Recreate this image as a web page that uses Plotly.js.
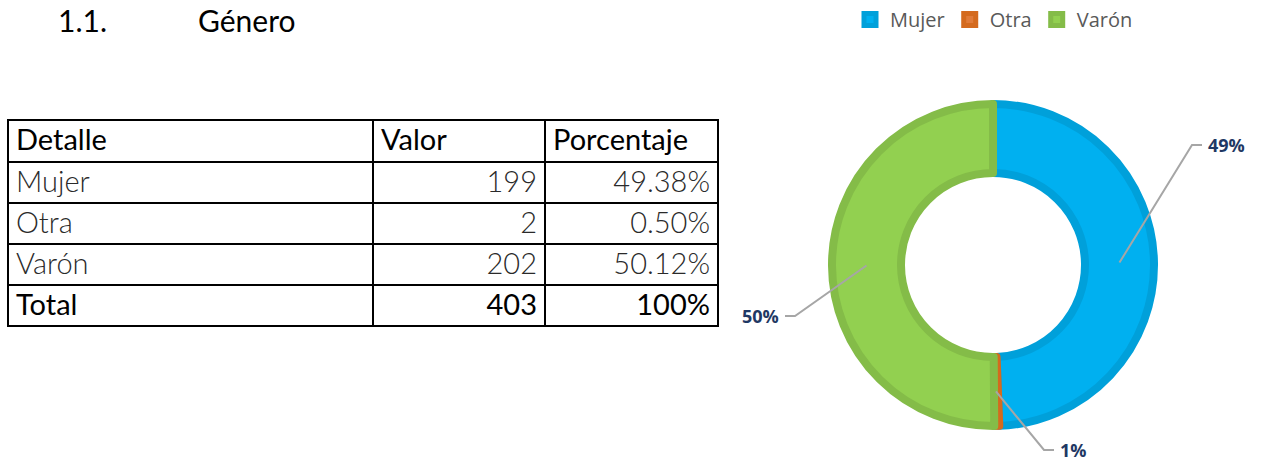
<!DOCTYPE html>
<html><head><meta charset="utf-8">
<script src="https://cdn.plot.ly/plotly-3.0.1.min.js"></script>
<style>html,body{margin:0;padding:0;background:#fff}#chart{width:1261px;height:462px}</style>
</head><body><div id="chart"></div>
<script>
// ---- data ----
const categories = ['Mujer', 'Otra', 'Varón'];
const values = [199, 2, 202];
const pctLabels = ['49%', '1%', '50%'];
const tableHeader = ['Detalle', 'Valor', 'Porcentaje'];
const colDetalle = ['Mujer', 'Otra', 'Varón', 'Total'];
const colValor = ['199', '2', '202', '403'];
const colPorcentaje = ['49.38%', '0.50%', '50.12%', '100%'];

// ---- styling ----
const W = 1261, H = 462;
const fillColors = ['#00B0F0', '#E07B39', '#92D050'];
const edgeColors = ['#00A0DA', '#D46A1E', '#84BC48'];
const cx = 993, cy = 265, rPath = 161, holePath = 92;
const px = x => x / W, py = y => 1 - y / H;
// label elbow positions (pixels) and text side
const labelElbows = [[1192, 145, 'left'], [1044, 450, 'left'], [795, 316, 'right']];

const pie = {
  type: 'pie', labels: categories, values: values, sort: false,
  direction: 'clockwise', rotation: 0, hole: holePath / rPath,
  textinfo: 'none', hoverinfo: 'label+value+percent',
  marker: {colors: fillColors, line: {color: edgeColors, width: 8}},
  domain: {x: [px(cx - rPath), px(cx + rPath)], y: [py(cy + rPath), py(cy - rPath)]},
  showlegend: true
};

const rowColor = ['#2a2a2a', '#2a2a2a', '#2a2a2a', '#000'];
const rowWeight = [300, 300, 300, 400];
const table = {
  type: 'table',
  domain: {x: [px(8), px(718)], y: [py(332), py(120)]},
  columnwidth: [365, 172, 173],
  header: {
    values: tableHeader, align: 'left',
    height: 42, line: {color: '#000', width: 2}, fill: {color: '#fff'},
    font: {family: 'Lato, sans-serif', size: 29, color: '#000'}
  },
  cells: {
    values: [colDetalle, colValor, colPorcentaje], align: ['left', 'right', 'right'],
    height: 41, line: {color: '#000', width: 2}, fill: {color: '#fff'},
    font: {family: 'Lato, sans-serif', size: 29, color: [rowColor, rowColor, rowColor],
      weight: [rowWeight, rowWeight, rowWeight]}
  }
};

// leader lines and labels computed from the data angles
const total = values.reduce((a, b) => a + b, 0);
const shapes = [], annotations = [];
let cum = 0;
const rMid = (holePath - 4 + rPath + 4) / 2;
values.forEach((v, i) => {
  const mid = (cum + v / 2) / total * 2 * Math.PI;
  cum += v;
  const sx = cx + rMid * Math.sin(mid), sy = cy - rMid * Math.cos(mid);
  const [ex, ey, side] = labelElbows[i];
  const hx = side === 'left' ? ex + 10 : ex - 10;
  shapes.push({type: 'path', xref: 'paper', yref: 'paper',
    path: `M ${px(sx)} ${py(sy)} L ${px(ex)} ${py(ey)} L ${px(hx)} ${py(ey)}`,
    line: {color: '#A6A6A6', width: 2}});
  annotations.push({xref: 'paper', yref: 'paper', x: px(side === 'left' ? hx + 5 : hx - 5), y: py(ey),
    xanchor: side === 'left' ? 'left' : 'right', yanchor: 'middle', showarrow: false, borderpad: 0,
    text: '<b>' + pctLabels[i] + '</b>', font: {family: 'Open Sans, sans-serif', size: 18, color: '#1F3864'}});
});
annotations.push({xref: 'paper', yref: 'paper', x: px(56), y: py(20), xanchor: 'left', yanchor: 'middle',
  showarrow: false, text: '1.1.', font: {family: 'Lato, sans-serif', size: 30, color: '#000'}});
annotations.push({xref: 'paper', yref: 'paper', x: px(196), y: py(20), xanchor: 'left', yanchor: 'middle',
  showarrow: false, text: 'Género', font: {family: 'Lato, sans-serif', size: 30, color: '#000'}});

const layout = {
  width: W, height: H, margin: {l: 0, r: 0, t: 0, b: 0},
  paper_bgcolor: '#fff', plot_bgcolor: '#fff',
  showlegend: true,
  legend: {orientation: 'h', x: px(850), y: py(0), xanchor: 'left', yanchor: 'top',
    font: {family: 'Open Sans, sans-serif', size: 20, color: '#595959'}, traceorder: 'normal',
    itemwidth: 30},
  shapes: shapes, annotations: annotations
};
Plotly.newPlot('chart', [table, pie], layout, {displayModeBar: false, staticPlot: true});
</script></body></html>
